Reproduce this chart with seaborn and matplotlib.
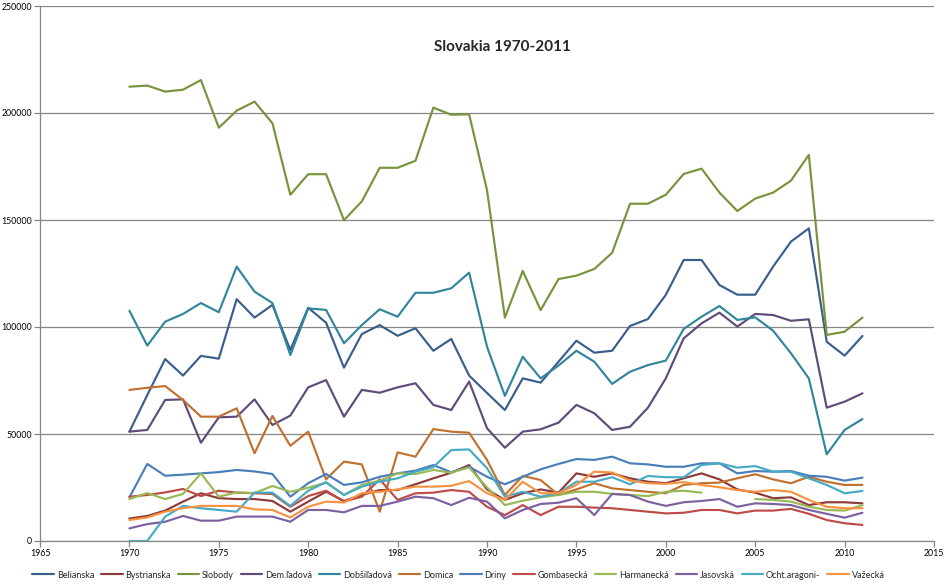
import numpy as np
import pandas as pd
import matplotlib
matplotlib.use("Agg")
import matplotlib.pyplot as plt
import seaborn as sns

years = list(range(1970, 2012))
nan = np.nan

belianska = [51100, 68200, 85000, 77300, 86500, 85200, 113000, 104400, 110300, 89300,
             109000, 102000, 81000, 96700, 100900, 95900, 99400, 88900, 94400, 77300,
             69200, 61200, 76000, 74000, 83800, 93600, 88000, 88900, 100500, 103700,
             115000, 131300, 131300, 119600, 115100, 115100, 128200, 139900, 146100, 93100,
             86600, 95800]
bystrianska = [10500, 11700, 14200, 18400, 22300, 20000, 19600, 19600, 18700, 13700,
               18400, 23000, 18700, 21500, 23800, 23800, 26500, 29300, 31900, 35500,
               24100, 19200, 22300, 24100, 22600, 31600, 30000, 31600, 29300, 27700,
               27000, 29300, 31600, 28800, 24100, 22600, 20000, 20400, 16800, 18100,
               18100, 17600]
slobody = [212300, 212800, 210000, 210900, 215400, 193100, 201100, 205300, 195200, 161800,
           171400, 171400, 149900, 158700, 174400, 174400, 177700, 202500, 199200, 199400,
           164000, 104400, 126200, 107900, 122400, 124000, 127100, 134700, 157600, 157600,
           161800, 171500, 174000, 162800, 154200, 160000, 162800, 168400, 180400, 96300,
           97800, 104400]
dem_ladova = [51100, 51900, 65900, 66200, 45900, 57800, 58100, 66200, 54200, 58600,
              71800, 75200, 58100, 70600, 69300, 71800, 73700, 63600, 61200, 74500,
              52700, 43600, 51100, 52200, 55300, 63600, 59700, 51900, 53400, 62300,
              76000, 94700, 101700, 106700, 100200, 106100, 105600, 102900, 103600, 62300,
              65100, 69000]
dobsiladova = [107600, 91300, 102500, 106100, 111200, 106900, 128200, 116500, 111200, 86900,
               108700, 108000, 92400, 100900, 108300, 104800, 116000, 116000, 118100, 125400,
               90800, 67800, 86100, 76000, 82000, 88900, 83800, 73400, 79100, 82200,
               84300, 99100, 104800, 109800, 103300, 104500, 98300, 87700, 76000, 40500,
               51900, 57000]
domica = [70600, 71600, 72400, 65900, 58100, 58100, 62000, 41000, 58400, 44500,
          51100, 28800, 37100, 35800, 13700, 41400, 39400, 52300, 51100, 50600,
          37900, 21500, 30400, 28500, 21500, 24100, 27000, 24600, 23800, 23000,
          22300, 26200, 27000, 27300, 29300, 31200, 28800, 27000, 30000, 27700,
          26200, 26200]
driny = [20400, 36000, 30500, 31000, 31600, 32200, 33200, 32500, 31300, 20700,
         27000, 31300, 26200, 27400, 30000, 31600, 32900, 35500, 32100, 34700,
         30000, 26500, 30000, 33500, 36000, 38300, 37900, 39400, 36300, 35800,
         34700, 34700, 36300, 36300, 31600, 32700, 32400, 32700, 30500, 30000,
         28200, 29600]
gombasecka = [20700, 21500, 22700, 24300, 21000, 23500, 22600, 22300, 22000, 16000,
              21000, 23500, 18400, 20700, 28800, 19200, 22300, 22600, 23800, 23000,
              16000, 12100, 16800, 12100, 16000, 16000, 15600, 15300, 14500, 13700,
              12900, 13200, 14500, 14500, 12900, 14200, 14200, 15000, 12700, 9800,
              8300, 7500]
harmanecka = [19600, 22400, 19600, 22000, 31600, 20700, 22700, 22400, 25700, 23000,
              24900, 27300, 21500, 26200, 28200, 31600, 31300, 33200, 31900, 34400,
              25000, 16800, 18800, 20400, 21500, 23000, 23000, 22000, 21500, 21000,
              23000, 23500, 22600, nan, nan, 19600, 19200, 18400, 16000, 14500,
              14200, 16800]
jasovska = [5900, 7900, 9000, 11700, 9500, 9500, 11400, 11400, 11400, 9000,
            14500, 14500, 13400, 16400, 16400, 18400, 20700, 20000, 16800, 20200,
            18400, 10600, 14500, 17300, 17900, 20000, 12100, 22000, 21500, 18400,
            16400, 18100, 18700, 19600, 16000, 17600, 17300, 16800, 14500, 12700,
            10900, 13200]
ocht_aragonit = [0, 0, 11400, 16400, 15300, 14500, 13700, 22600, 22600, 16400,
                 23500, 27500, 21500, 25400, 27700, 29300, 32400, 34500, 42500, 42800,
                 34000, 20700, 23000, 20700, 22300, 27700, 27700, 29800, 26500, 30400,
                 29800, 29800, 35500, 36300, 34300, 35000, 32400, 32400, 29300, 26200,
                 22300, 23400]
vazecka = [9800, 11000, 13700, 15300, 16400, 16400, 16400, 14800, 14500, 11000,
           16000, 18400, 18000, 22300, 23000, 24100, 25400, 25400, 25800, 28000,
           22300, 19200, 27700, 22300, 22300, 26200, 32400, 32000, 28200, 27000,
           26700, 27500, 26200, 25100, 23800, 23000, 23800, 23000, 19200, 16000,
           15300, 15300]

names = ["Belianska", "Bystrianska", "Slobody", "Dem.ľadová", "Dobšiľadová", "Domica",
         "Driny", "Gombasecká", "Harmanecká", "Jasovská", "Ocht.aragoni-", "Važecká"]
series = [belianska, bystrianska, slobody, dem_ladova, dobsiladova, domica,
          driny, gombasecka, harmanecka, jasovska, ocht_aragonit, vazecka]
colors = ["#3A5E8C", "#8E3A38", "#77933C", "#5F4B7A", "#31859C", "#C0712F",
          "#4A7EBB", "#BE4B48", "#98B954", "#7D60A0", "#46AAC5", "#F69240"]

rows = []
for name, vals in zip(names, series):
    seg = 0
    for y, v in zip(years, vals):
        if np.isnan(v):
            seg += 1
            continue
        rows.append({"year": y, "visitors": v, "cave": name, "unit": f"{name}_{seg}"})
df = pd.DataFrame(rows)

sns.set_theme(style="white")
plt.rcParams["font.family"] = ["Lato", "DejaVu Sans"]

fig = plt.figure(figsize=(9.46, 5.85), dpi=100)
ax = fig.add_axes([40 / 946, 1 - 541 / 585, 894 / 946, 535 / 585])

sns.lineplot(data=df, x="year", y="visitors", hue="cave", hue_order=names,
             palette=dict(zip(names, colors)), units="unit", estimator=None,
             linewidth=1.55, ax=ax, legend=True, sort=True)

ax.set_xlim(1965, 2015)
ax.set_ylim(0, 250000)
ax.set_xticks(range(1965, 2016, 5))
ax.set_yticks(range(0, 250001, 50000))
ax.set_xticklabels([str(t) for t in range(1965, 2016, 5)])
ax.set_yticklabels([str(t) for t in range(0, 250001, 50000)])
ax.set_xlabel("")
ax.set_ylabel("")
ax.yaxis.grid(True, color="#868686", linewidth=0.9)
ax.set_axisbelow(True)
for s in ["top", "right"]:
    ax.spines[s].set_visible(False)
for s in ["left", "bottom"]:
    ax.spines[s].set_color("#868686")
    ax.spines[s].set_linewidth(0.9)
ax.tick_params(axis="both", which="major", direction="out", length=4, width=0.9,
               color="#868686", labelsize=6.3, labelcolor="#000000", pad=1.5,
               bottom=True, left=True)

sns.move_legend(ax, "upper center", bbox_to_anchor=(0.468, -0.04), ncol=12,
                frameon=False, title=None, fontsize=6.5, handlelength=2.4,
                columnspacing=0.75, handletextpad=0.3)

fig.text(502 / 946, 1 - 47 / 585, "Slovakia 1970-2011", ha="center", va="center",
         fontsize=11, fontweight="bold", family=["Lato", "DejaVu Sans"])

fig.savefig("out.png", dpi=100)
